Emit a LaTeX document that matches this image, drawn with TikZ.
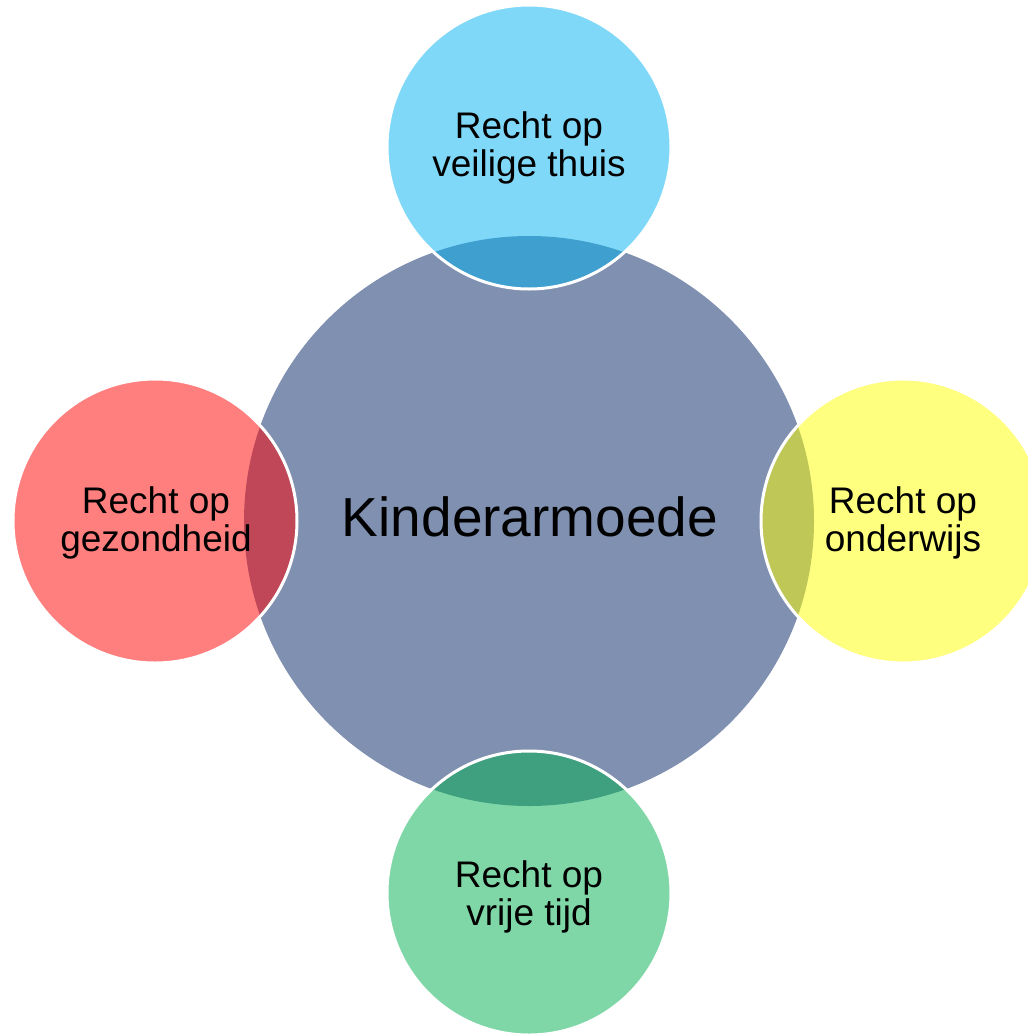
\documentclass[tikz,border=0pt]{standalone}
\usepackage{fontspec}
\setmainfont{Liberation Sans}
\definecolor{centerc}{RGB}{128,144,176}
\definecolor{bluec}{RGB}{0,177,241}
\definecolor{yellowc}{RGB}{255,255,0}
\definecolor{greenc}{RGB}{0,176,80}
\definecolor{redc}{RGB}{255,0,0}
\tikzset{
  smallcirc/.style={circle, minimum size=284pt, inner sep=0pt, fill opacity=0.5, draw=white, draw opacity=1, line width=3pt},
  smalltext/.style={align=center, font=\fontsize{37}{38.5}\selectfont, text=black, inner sep=0pt},
  bigtext/.style={font=\fontsize{55}{60}\selectfont, text=black, inner sep=0pt}
}
\begin{document}
\begin{tikzpicture}[x=1pt,y=-1pt]
\useasboundingbox (0,0) rectangle (1028,1034);
\clip (0,0) rectangle (1028,1034);
\node[circle, minimum size=570pt, inner sep=0pt, fill=centerc] (hub) at (529,521) {};
\node[smallcirc, fill=bluec] (top) at (529,147) {};
\node[smallcirc, fill=yellowc] (right) at (903,521) {};
\node[smallcirc, fill=greenc] (bottom) at (529,893) {};
\node[smallcirc, fill=redc] (left) at (155,521) {};
\node[bigtext, anchor=base] (hubtext) at (530,536) {Kinderarmoede};
\node[smalltext] (toptext) at (529,148) {Recht op\\veilige thuis};
\node[smalltext] (righttext) at (903,523) {Recht op\\onderwijs};
\node[smalltext] (bottomtext) at (529,897) {Recht op\\vrije tijd};
\node[smalltext] (lefttext) at (156,523) {Recht op\\gezondheid};
\end{tikzpicture}
\end{document}
